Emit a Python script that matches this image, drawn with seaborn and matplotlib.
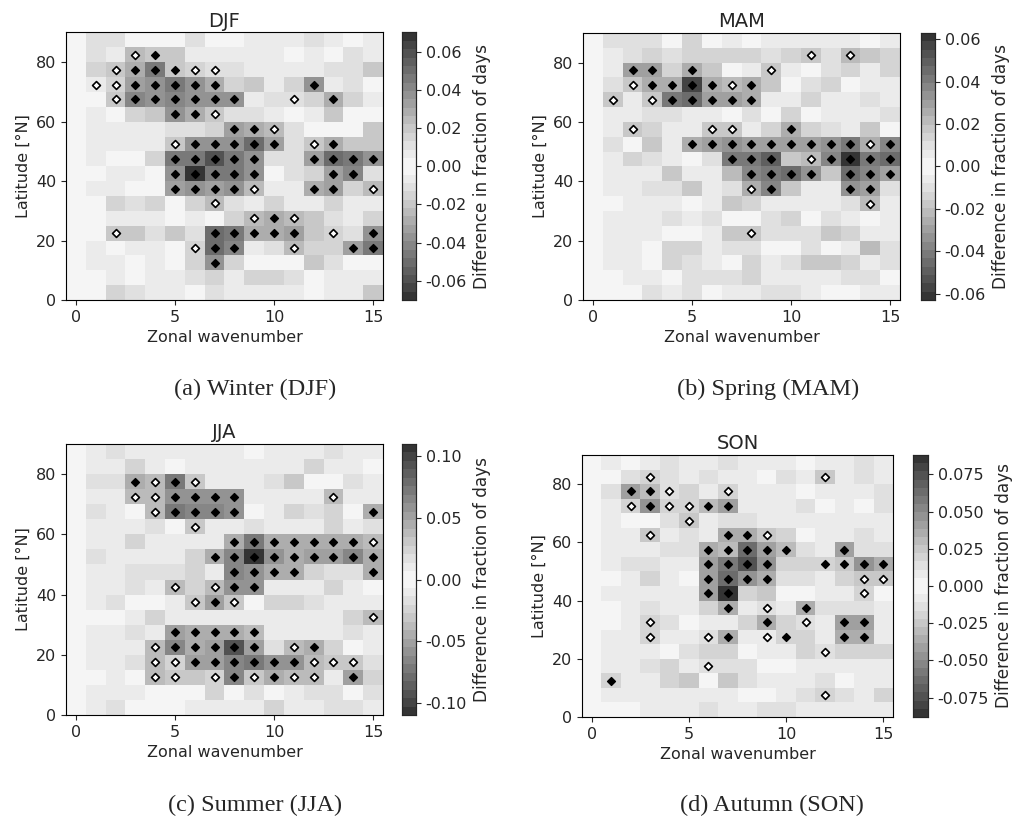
import numpy as np
import pandas as pd
import matplotlib
matplotlib.use("Agg")
import matplotlib.pyplot as plt
from matplotlib.colors import ListedColormap
import seaborn as sns

# Zonal wavenumber columns and 5-degree latitude bins (bin centres, north first)
wavenumbers = list(range(16))
latitudes = [87.5, 82.5, 77.5, 72.5, 67.5, 62.5, 57.5, 52.5, 47.5,
             42.5, 37.5, 32.5, 27.5, 22.5, 17.5, 12.5, 7.5, 2.5]

# Differences in fraction of days, stored in units of 1e-3
djf_diff = [
    [1, 11, 11, 2, 2, 2, 11, 2, 2, 7, 7, 7, 11, 7, 2, 7],
    [1, 11, 7, -24, 20, 20, 7, 7, 7, 7, 7, 2, 7, 2, 11, 7],
    [1, 15, -20, 29, 46, 20, -15, -11, 11, 7, 7, 7, 7, 11, 11, 20],
    [1, -7, -15, 33, 37, 46, 37, 29, 15, 20, 7, 15, 37, 7, 11, 2],
    [1, 2, -20, 41, 37, 41, 37, 37, 37, 7, 11, -11, 15, 29, 15, 7],
    [1, 7, 2, 15, 20, 37, 29, -20, 11, 11, 7, 2, 7, 20, 2, 2],
    [1, 7, 7, 7, 7, 11, 11, 15, 33, 29, -24, 11, 2, 2, 2, 20],
    [1, 7, 7, 7, 7, -20, 37, 37, 37, 50, 33, 11, -20, 29, 20, 20],
    [1, 7, 2, 2, 15, 46, 46, 59, 46, 37, 11, 11, 33, 50, 46, 37],
    [1, 2, 7, 7, 2, 37, 70, 46, 46, 37, 2, 11, 15, 33, 41, 11],
    [1, 7, 7, 2, 2, 33, 37, 33, 37, -24, 7, 7, 29, 33, 15, -24],
    [1, 2, 15, 11, 15, 2, 15, -24, 11, 7, 15, 7, 7, 15, 7, 7],
    [1, 2, 7, 7, 7, 2, 7, 2, 15, -24, 29, -24, 20, 11, 7, 15],
    [1, 2, -20, 20, 11, 20, 11, 50, 46, 29, 29, 33, 20, -15, 11, 37],
    [1, 7, 2, 7, 7, 2, -15, 50, 41, 7, 11, -24, 15, 15, 33, 46],
    [1, 7, 7, 2, 7, 2, 15, 37, 15, 2, 2, 2, 20, 11, 2, 2],
    [1, 2, 7, 2, 7, 7, 11, 15, 7, 15, 15, 11, 2, 7, 7, 7],
    [1, 2, 15, 11, 7, 7, 2, 11, 7, 7, 7, 7, 2, 7, 7, 20],
]
djf_sig = [
    "0000000000000000", "0001100000000000", "0011111100000000",
    "0111111100001000", "0011111110010100", "0000011100000000",
    "0000000011100000", "0000011111101100", "0000011111001111",
    "0000011111000110", "0000011111001101", "0000000100000000",
    "0000000001110000", "0010000111110101", "0000001110010011",
    "0000000100000000", "0000000000000000", "0000000000000000",
]

mam_diff = [
    [1, 10, 10, 10, 2, 14, 2, 6, 2, 6, 6, 6, 6, 6, 2, 6],
    [1, 6, 10, 14, 10, 14, 14, 14, 14, 10, 14, -18, 10, -21, 18, 14],
    [1, 6, 30, 30, 14, 26, 18, 2, 6, -18, 6, 2, 10, 14, 6, 14],
    [1, 10, -18, 26, 26, 57, 26, -21, 26, 18, 2, 10, 14, 2, 6, 6],
    [1, -18, 6, -18, 42, 45, 30, 30, 26, 6, 6, 14, 6, 6, 10, 6],
    [1, 6, 6, 10, 10, 6, 6, 2, 10, 2, 14, 2, 6, 6, 6, 10],
    [1, 6, -18, 14, 6, 6, -18, -18, 6, 14, 26, 14, 10, 6, 18, 2],
    [1, 10, 2, 18, 6, 26, 30, 33, 30, 30, 30, 30, 33, 42, -26, 37],
    [1, 6, 14, 10, 6, 2, 10, 42, 42, 49, 18, -21, 37, 63, 42, 45],
    [1, 6, 6, 6, 18, 6, 6, 21, 37, 42, 45, 33, 18, 45, 37, 30],
    [1, 6, 6, 10, 10, 18, 6, 10, -26, 37, 18, 6, 6, 33, 30, 10],
    [1, 2, 6, 6, 6, 2, 6, 18, 14, 6, 6, 6, 6, 10, -21, 6],
    [1, 6, 6, 6, 10, 6, 10, 2, 2, 10, 14, 2, 10, 6, 2, 6],
    [1, 6, 6, 6, 2, 2, 6, 18, -18, 10, 10, 10, 18, 14, 6, 6],
    [1, 6, 6, 2, 14, 14, 6, 10, 10, 2, 2, 10, 2, 6, 21, 10],
    [1, 6, 6, 2, 14, 10, 6, 2, 14, 6, 10, 18, 18, 14, 6, 10],
    [1, 2, 6, 6, 2, 10, 10, 10, 14, 6, 6, 6, 6, 10, 10, 2],
    [1, 2, 2, 10, 6, 10, 2, 6, 6, 10, 10, 6, 2, 2, 6, 6],
]
mam_sig = [
    "0000000000000000", "0000000000010100", "0011010001000000",
    "0011111110000000", "0101111110000000", "0000000000000000",
    "0010001100100000", "0000011111111111", "0000000111011111",
    "0000000011110111", "0000000011000110", "0000000000000010",
    "0000000000000000", "0000000010000000", "0000000000000000",
    "0000000000000000", "0000000000000000", "0000000000000000",
]

jja_diff = [
    [2, 10, 17, 10, 10, 10, 10, 10, 10, 3, 10, 10, 10, 17, 10, 10],
    [2, 10, 10, 24, 10, 3, 10, 10, 10, 10, 10, 10, 24, 10, 10, 3],
    [2, 17, 17, 45, -37, 73, -31, 10, 10, 10, 17, 31, 3, 3, 17, 10],
    [2, 10, 10, -37, -37, 58, 58, 58, 58, 10, 10, 10, 10, -37, 10, 10],
    [2, 17, 10, 3, -37, 73, 65, 65, 58, 3, 10, 24, 17, 24, 3, 45],
    [2, 10, 10, 10, 17, 3, -31, 10, 10, 17, 10, 10, 10, 24, 10, 17],
    [2, 10, 10, 24, 10, 10, 10, 10, 45, 73, 45, 45, 45, 45, 45, -37],
    [2, 17, 10, 10, 10, 10, 24, 45, 65, 110, 58, 45, 52, 52, 65, 45],
    [2, 10, 10, 17, 17, 17, 24, 10, 65, 58, 45, 45, 24, 17, 17, 45],
    [2, 10, 10, 17, 10, -37, 24, -37, 58, 58, 10, 10, 10, 24, 10, 3],
    [2, 10, 17, 3, 3, 10, -31, 52, -31, 3, 24, 24, 17, 10, 10, 10],
    [2, 3, 3, 10, 24, 10, 10, 10, 10, 10, 10, 10, 10, 10, 24, -37],
    [2, 10, 10, 17, 10, 52, 45, 45, 45, 37, 10, 10, 10, 10, 17, 10],
    [2, 10, 10, 10, -37, 65, 45, 52, 92, 52, 17, -37, 45, 24, 3, 10],
    [2, 10, 10, 17, -37, -24, 52, 52, 65, 73, 58, 58, -37, -31, -31, 17],
    [2, 3, 10, 3, -37, -31, 31, -24, 65, -31, 45, -37, -37, 10, 52, 24],
    [2, 10, 10, 10, 3, 3, 3, 24, 3, 17, 3, 10, 17, 17, 3, 17],
    [2, 10, 17, 3, 3, 3, 10, 10, 10, 10, 24, 10, 10, 17, 17, 10],
]
jja_sig = [
    "0000000000000000", "0000000000000000", "0001111000000000",
    "0001111110000100", "0000111110000001", "0000001000000000",
    "0000000011111111", "0000000111111111", "0000000011110001",
    "0000010111000000", "0000001110000000", "0000000000000001",
    "0000011111000000", "0000111111011000", "0000111111111110",
    "0000110111111010", "0000000000000000", "0000000000000000",
]

son_diff = [
    [1, 8, 3, 8, 14, 8, 8, 14, 8, 8, 8, 3, 8, 8, 14, 8],
    [1, 3, 14, -19, 14, 8, 14, 8, 8, 3, 14, 8, -25, 8, 14, 8],
    [1, 14, 41, 30, -14, 19, 8, -19, 8, 8, 8, 3, 8, 8, 8, 14],
    [1, 8, -19, 47, -19, -19, 30, 41, 8, 8, 8, 14, 3, 8, 3, 14],
    [1, 8, 3, 3, 14, -25, 8, 14, 14, 8, 8, 8, 8, 8, 8, 8],
    [1, 8, 8, -25, 8, 14, 8, 36, 36, -25, 19, 3, 8, 8, 14, 8],
    [1, 8, 8, 8, 14, 14, 36, 30, 63, 41, 30, 14, 8, 41, 14, 14],
    [1, 8, 14, 14, 8, 8, 41, 58, 74, 47, 19, 19, 19, 25, 47, 36],
    [1, 3, 8, 19, 8, 3, 41, 63, 47, 36, 14, 14, 8, 19, -25, -25],
    [1, 8, 8, 8, 8, 8, 41, 88, 19, 25, 3, 3, 8, 8, -19, 3],
    [1, 3, 8, 14, 8, 8, 19, 36, 8, -14, 8, 36, 14, 14, 14, 8],
    [1, 3, 8, -19, 14, 3, 8, 8, 19, 36, 19, -14, 8, 41, 41, 8],
    [1, 8, 8, -19, 8, 8, -14, 36, 8, -8, 19, 19, 8, 36, 36, 8],
    [1, 8, 8, 8, 3, 14, 19, 19, 3, 8, 8, 19, -14, 19, 19, 19],
    [1, 8, 8, 14, 19, 8, -14, 14, 14, 3, 3, 8, 8, 8, 8, 8],
    [1, 19, 8, 8, 19, 25, 3, 25, 14, 8, 8, 8, 14, 3, 8, 8],
    [1, 8, 8, 8, 8, 8, 8, 8, 3, 3, 8, 14, -19, 14, 8, 19],
    [1, 3, 3, 8, 8, 8, 14, 8, 8, 14, 14, 8, 8, 8, 8, 8],
]
son_sig = [
    "0000000000000000", "0001000000001000", "0011100100000000",
    "0011111100000000", "0000010000000000", "0001000111000000",
    "0000001111100100", "0000001111001111", "0000001111000011",
    "0000001100000010", "0000000101010000", "0001000001010110",
    "0001001101100110", "0000000000001000", "0000001000000000",
    "0100000000000000", "0000000000001000", "0000000000000000",
]

seasons = ["DJF", "MAM", "JJA", "SON"]
captions = ["(a) Winter (DJF)", "(b) Spring (MAM)",
            "(c) Summer (JJA)", "(d) Autumn (SON)"]
cbar_ticks = [
    [-0.06, -0.04, -0.02, 0.00, 0.02, 0.04, 0.06],
    [-0.06, -0.04, -0.02, 0.00, 0.02, 0.04, 0.06],
    [-0.10, -0.05, 0.00, 0.05, 0.10],
    [-0.075, -0.050, -0.025, 0.000, 0.025, 0.050, 0.075],
]
cbar_fmt = ["%.2f", "%.2f", "%.2f", "%.3f"]
x_ticks = [0, 5, 10, 15]
y_ticks = [0, 20, 40, 60, 80]
diffs = [djf_diff, mam_diff, jja_diff, son_diff]
sigs = [djf_sig, mam_sig, jja_sig, son_sig]

sns.set_style("ticks")
plt.rcParams["font.family"] = ["DejaVu Sans"]
plt.rcParams["font.size"] = 11.5

W, H = 1019, 821
fig = plt.figure(figsize=(W / 100, H / 100), dpi=100)


def box(left, top, right, bottom):
    return [left / W, 1 - bottom / H, (right - left) / W, (bottom - top) / H]


# pixel boxes: heatmap axes, colorbar axes, caption centre
layout = [
    ((66, 32.5, 383, 300), (402, 32.5, 416, 300), (255, 389)),
    ((583, 33, 900, 300), (921, 33, 935, 300), (768, 389)),
    ((66, 444, 383, 715), (402, 444, 416, 715), (255, 805)),
    ((582, 455, 893, 717), (913, 455, 928, 717), (772, 805)),
]

# 16 grey steps per sign, mirrored about zero
grey_steps = np.array([245, 235, 224, 212, 200, 187, 173, 160,
                       147, 134, 121, 108, 95, 82, 68, 52]) / 255.0
half = np.column_stack([grey_steps, grey_steps, grey_steps])
cmap = ListedColormap(np.vstack([half[::-1], half]), name="grey_mirror")

lat_top, lat_step = 90.0, 5.0

for k in range(4):
    ax_box, cb_box, cap = layout[k]
    ax = fig.add_axes(box(*ax_box))
    cax = fig.add_axes(box(*cb_box))

    df = pd.DataFrame(np.array(diffs[k], dtype=float) / 1000.0,
                      index=latitudes, columns=wavenumbers)
    vmax = np.abs(df.values).max()
    sns.heatmap(df, ax=ax, cmap=cmap, vmin=-vmax, vmax=vmax,
                cbar_ax=cax, xticklabels=False, yticklabels=False,
                cbar_kws={"ticks": cbar_ticks[k], "format": cbar_fmt[k]})
    cax.set_ylabel("Difference in fraction of days", fontsize=12.2)
    cax.tick_params(labelsize=11.5, length=3.5, width=0.8)
    for s in cax.spines.values():
        s.set_visible(True)
        s.set_linewidth(0.8)

    # significance markers: filled for positive, open for negative
    sig = np.array([[c == "1" for c in row] for row in sigs[k]])
    rows, cols = np.nonzero(sig)
    vals = df.values[rows, cols]
    pos = vals > 0
    ax.scatter(cols[pos] + 0.5, rows[pos] + 0.5, marker="D", s=16,
               facecolor="black", edgecolor="black", linewidths=1.0, zorder=3)
    ax.scatter(cols[~pos] + 0.5, rows[~pos] + 0.5, marker="D", s=16,
               facecolor="white", edgecolor="black", linewidths=1.2, zorder=3)

    ax.set_xticks([wavenumbers.index(w) + 0.5 for w in x_ticks])
    ax.set_xticklabels([str(w) for w in x_ticks], rotation=0)
    ax.set_yticks([(lat_top - v) / lat_step for v in y_ticks])
    ax.set_yticklabels([str(v) for v in y_ticks], rotation=0)
    ax.tick_params(labelsize=11.5, length=3.5, width=0.8, direction="out")
    for s in ax.spines.values():
        s.set_visible(True)
        s.set_color("black")
        s.set_linewidth(0.8)
    ax.set_xlabel("Zonal wavenumber", fontsize=11.5)
    ax.set_ylabel("Latitude [°N]", fontsize=11.5)
    ax.set_title(seasons[k], fontsize=14, pad=4)

    fig.text(cap[0] / W, 1 - cap[1] / H, captions[k], ha="center",
             va="center", fontsize=17.5, family=["Liberation Serif"])

fig.savefig("out.png", dpi=100, facecolor="white")
